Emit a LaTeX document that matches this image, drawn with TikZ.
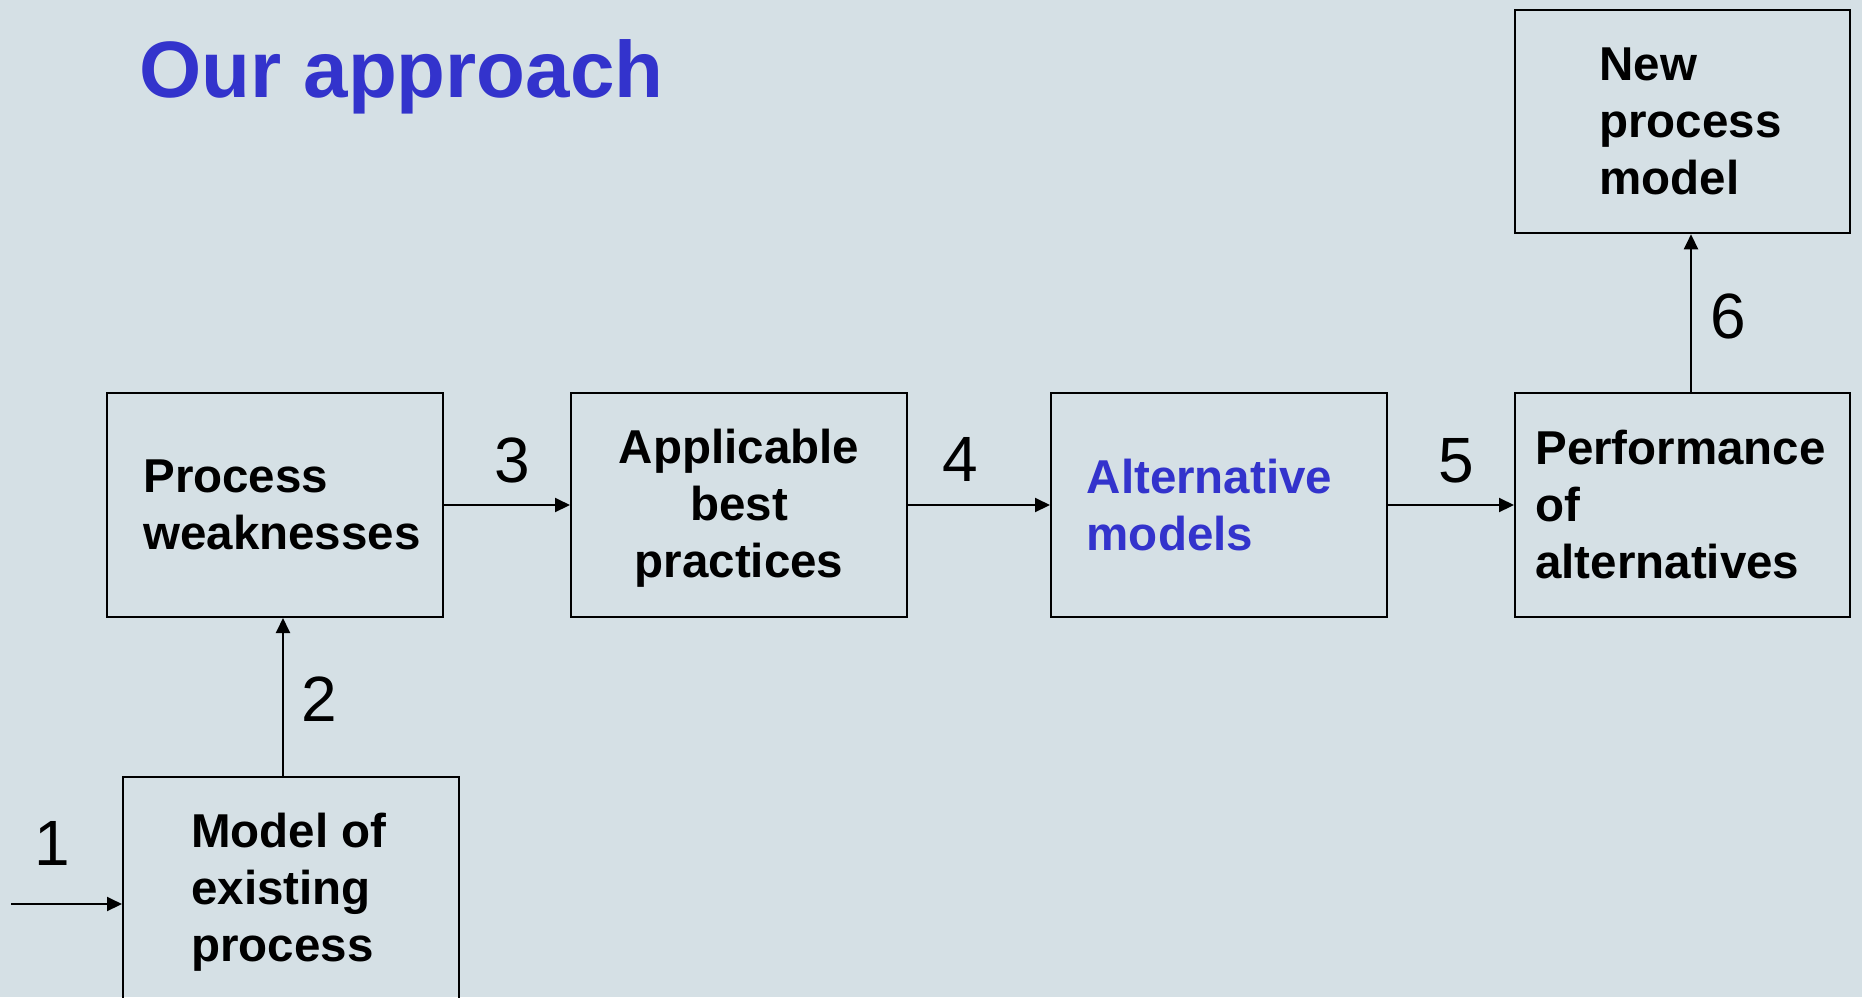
\documentclass[tikz,border=0pt]{standalone}
\usepackage{fontspec}
\setmainfont{Liberation Sans}
\usetikzlibrary{arrows.meta}
\definecolor{slidebg}{RGB}{213,224,229}
\definecolor{titleblue}{RGB}{51,51,204}
\begin{document}
\begin{tikzpicture}[x=1pt,y=-1pt,
  stage/.style={draw=black, line width=2pt, minimum width=336pt, minimum height=224pt,
    inner sep=0pt},
  stagetext/.style={inner sep=0pt, align=left, font=\bfseries\fontsize{47.5}{57}\selectfont},
  flow/.style={line width=2pt, -{Triangle[length=15pt,width=14pt]}},
  num/.style={anchor=base, inner sep=0pt, font=\fontsize{64}{70}\selectfont}]
% slide background
\fill[slidebg] (0,0) rectangle (1862,997);
\useasboundingbox (0,0) rectangle (1862,997);

% heading
\node[anchor=base west, inner sep=0pt, text=titleblue,
      font=\bfseries\fontsize{80}{90}\selectfont] (title) at (139,97) {Our approach};

% process stages (frames)
\node[stage] (weak) at (275,505) {};
\node[stage] (best) at (739,505) {};
\node[stage] (alt) at (1219,505) {};
\node[stage, minimum width=335pt] (perf) at (1682.5,505) {};
\node[stage, minimum width=335pt, minimum height=223.5pt] (newm) at (1682.5,121.5) {};
\node[stage] (mexist) at (291,889) {};

% stage captions
\node[stagetext, xshift=7pt] (weakt) at (weak) {Process\\weaknesses};
\node[stagetext, align=center, yshift=-3.5pt] (bestt) at (best) {Applicable\\best\\practices};
\node[stagetext, text=titleblue, xshift=-9.5pt] (altt) at (alt) {Alternative\\models};
\node[stagetext, xshift=-2pt] (perft) at (perf) {Performance\\of\\alternatives};
\node[stagetext, xshift=8pt] (newmt) at (newm) {New\\process\\model};
\node[stagetext, xshift=-2pt, yshift=-3.5pt] (mexistt) at (mexist) {Model of\\existing\\process};

% connector helpers
\coordinate (start) at (11,904);
\coordinate (up2) at (283,0);
\coordinate (up6) at (1691,0);

% connectors
\draw[flow] (start) -- (start -| mexist.west);
\draw[flow] (mexist.north -| up2) -- (weak.south -| up2);
\draw[flow] (weak.east) -- (best.west);
\draw[flow] (best.east) -- (alt.west);
\draw[flow] (alt.east) -- (perf.west);
\draw[flow] (perf.north -| up6) -- (newm.south -| up6);

% step numbers
\node[num] (n1) at (52,865) {1};
\node[num] (n2) at (319,721) {2};
\node[num] (n3) at (512.5,482) {3};
\node[num] (n4) at (960,481) {4};
\node[num] (n5) at (1456,482) {5};
\node[num] (n6) at (1728,338) {6};
\end{tikzpicture}
\end{document}
